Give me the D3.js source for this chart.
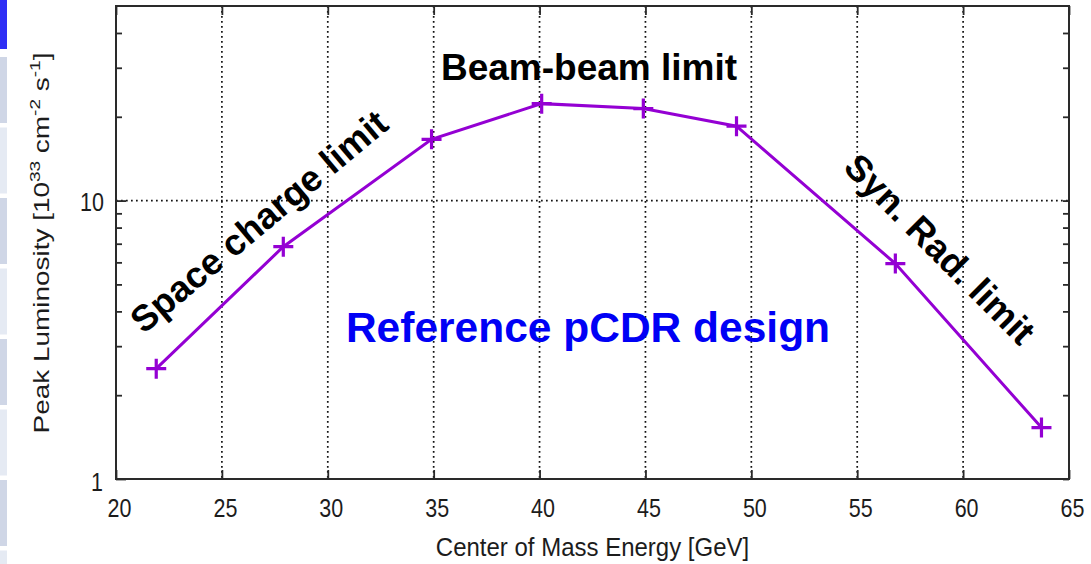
<!DOCTYPE html>
<html><head><meta charset="utf-8">
<script src="https://cdn.jsdelivr.net/npm/d3@7"></script>
<style>body{margin:0;background:#fff}svg{display:block}</style>
</head><body>
<svg id="c" width="1091" height="564"></svg>
<script>
// ---- data ----
const energy = [21.9, 27.9, 34.9, 40.1, 44.9, 49.3, 56.8, 63.7];
const lumi   = [2.49, 6.83, 16.6, 22.3, 21.4, 18.5, 5.94, 1.53];
const xTicks = [20, 25, 30, 35, 40, 45, 50, 55, 60, 65];
const yMajor = [1, 10];
const yMinor = [2, 3, 4, 5, 6, 7, 8, 9, 20, 30, 40];
const xTitle = "Center of Mass Energy [GeV]";
const annotations = ["Beam-beam limit", "Space charge limit", "Syn. Rad. limit", "Reference pCDR design"];

const svg = d3.select("#c");
const L = 116, R = 1069, T = 6, B = 479;
const x = d3.scaleLinear().domain([20, 65]).range([L, R]);
const y = d3.scaleLog().domain([1, 50]).range([B, T]);
const font = "'Liberation Sans', Arial, sans-serif";
const SY = 1.24; // vertical stretch of the original plot text

// slide decoration on the left edge
svg.append("rect").attr("x", 0).attr("y", 0).attr("width", 7).attr("height", 49).attr("fill", "#2f2ff5");
for (let i = 0; i < 8; i++) {
  const y0 = 57 + i * 70.5;
  svg.append("rect").attr("x", 0).attr("y", y0).attr("width", 7)
    .attr("height", Math.min(66, 564 - y0)).attr("fill", i % 2 ? "#e5eaf3" : "#cfd6e6");
}

// grid
const grid = svg.append("g").attr("stroke", "#111").attr("stroke-width", 1.7)
  .attr("stroke-dasharray", "1.7,3.3");
grid.selectAll("line.vx").data(xTicks.slice(1, -1)).join("line")
  .attr("x1", d => x(d)).attr("x2", d => x(d)).attr("y1", T).attr("y2", B);
grid.selectAll("line.hy").data([10]).join("line")
  .attr("x1", L).attr("x2", R).attr("y1", d => y(d)).attr("y2", d => y(d));

// axes
const axCol = "#2a2a2a";
const xb = svg.append("g").attr("transform", `translate(0,${B})`)
  .call(d3.axisBottom(x).tickValues(xTicks).tickSize(-9).tickFormat(d3.format("d")));
const xt = svg.append("g").attr("transform", `translate(0,${T})`)
  .call(d3.axisTop(x).tickValues(xTicks).tickSize(-9).tickFormat(""));
const yl = svg.append("g").attr("transform", `translate(${L},0)`)
  .call(d3.axisLeft(y).tickValues(yMajor).tickSize(-10).tickFormat(d3.format("d")));
const ylm = svg.append("g").attr("transform", `translate(${L},0)`)
  .call(d3.axisLeft(y).tickValues(yMinor).tickSize(-6).tickFormat(""));
const yr = svg.append("g").attr("transform", `translate(${R},0)`)
  .call(d3.axisRight(y).tickValues(yMajor.concat(yMinor)).tickSize(-6).tickFormat(""));
[xb, xt, yl, ylm, yr].forEach(g => {
  g.select(".domain").remove();
  g.selectAll("line").attr("stroke", axCol).attr("stroke-width", 1.8);
  g.selectAll("text").attr("font-family", font).attr("font-size", 21.5).attr("fill", "#1c1c1c");
});
xb.selectAll(".tick text").attr("y", null).attr("dy", null)
  .attr("transform", `translate(3,37.5) scale(1,${SY})`);
yl.selectAll(".tick text").attr("x", null).attr("dy", null).attr("text-anchor", "end")
  .attr("transform", `translate(-12,9.5) scale(1,${SY})`);
yl.selectAll(".tick").filter(d => d === 1).select("text")
  .attr("transform", `translate(-13,11) scale(1,${SY})`);
svg.append("rect").attr("x", L).attr("y", T).attr("width", R - L).attr("height", B - T)
  .attr("fill", "none").attr("stroke", axCol).attr("stroke-width", 2);

// axis titles
svg.append("text").attr("x", (L + R) / 2).attr("y", 556).attr("text-anchor", "middle")
  .attr("font-family", font).attr("font-size", 24).attr("fill", "#1c1c1c")
  .attr("transform", `translate(0,556) scale(1,1.08) translate(0,-556)`).text(xTitle);
const yt = svg.append("text").attr("transform", "translate(49,243) rotate(-90) scale(1.27,1)")
  .attr("text-anchor", "middle").attr("font-family", font).attr("font-size", 22).attr("fill", "#1c1c1c");
yt.append("tspan").text("Peak Luminosity [10");
yt.append("tspan").attr("font-size", 15).attr("dy", -9).text("33");
yt.append("tspan").attr("dy", 9).text(" cm");
yt.append("tspan").attr("font-size", 15).attr("dy", -9).text("-2");
yt.append("tspan").attr("dy", 9).text(" s");
yt.append("tspan").attr("font-size", 15).attr("dy", -9).text("-1");
yt.append("tspan").attr("dy", 9).text("]");

// series
const pts = energy.map((e, i) => [e, lumi[i]]);
const purple = "#9400d3";
svg.append("path").datum(pts).attr("fill", "none").attr("stroke", purple).attr("stroke-width", 3)
  .attr("d", d3.line().x(d => x(d[0])).y(d => y(d[1])));
svg.append("g").selectAll("path").data(pts).join("path")
  .attr("transform", d => `translate(${x(d[0])},${y(d[1])})`)
  .attr("d", "M-10,0H10M0,-10V10").attr("stroke", purple).attr("stroke-width", 3.2);

// annotations
const ann = (txt, tx, ty, rot, size, col) => svg.append("text")
  .attr("transform", `translate(${tx},${ty}) rotate(${rot})`).attr("text-anchor", "middle")
  .attr("font-family", font).attr("font-weight", "bold").attr("font-size", size)
  .attr("fill", col).text(txt);
ann(annotations[0], 589, 80, 0, 37, "#000");
ann(annotations[1], 267, 231, -40, 36.5, "#000");
ann(annotations[2], 931, 258, 45, 36.5, "#000");
ann(annotations[3], 588, 342, 0, 42.5, "#0000f5");
</script>
</body></html>
